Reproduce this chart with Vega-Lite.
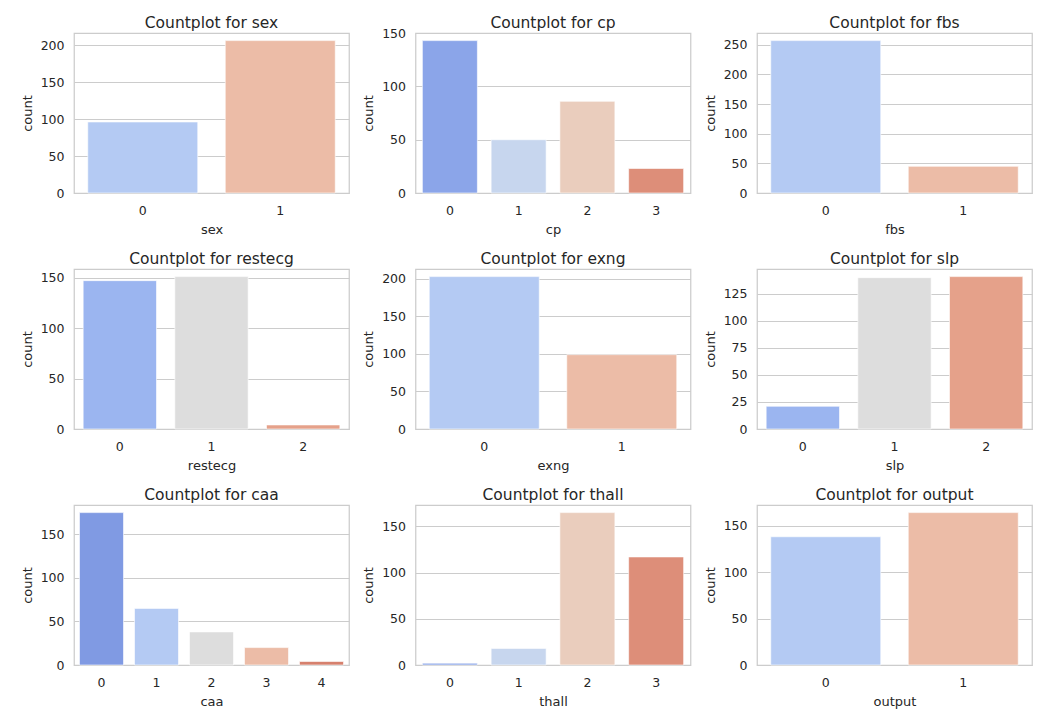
{
  "$schema": "https://vega.github.io/schema/vega-lite/v6.json",
  "background": "white",
  "padding": {"left": 20, "top": 14, "right": 5, "bottom": 5},
  "data": {"values": [
    {"feature": "sex", "value": 0, "count": 96},
    {"feature": "sex", "value": 1, "count": 206},
    {"feature": "cp", "value": 0, "count": 143},
    {"feature": "cp", "value": 1, "count": 50},
    {"feature": "cp", "value": 2, "count": 86},
    {"feature": "cp", "value": 3, "count": 23},
    {"feature": "fbs", "value": 0, "count": 257},
    {"feature": "fbs", "value": 1, "count": 45},
    {"feature": "restecg", "value": 0, "count": 147},
    {"feature": "restecg", "value": 1, "count": 151},
    {"feature": "restecg", "value": 2, "count": 4},
    {"feature": "exng", "value": 0, "count": 203},
    {"feature": "exng", "value": 1, "count": 99},
    {"feature": "slp", "value": 0, "count": 21},
    {"feature": "slp", "value": 1, "count": 140},
    {"feature": "slp", "value": 2, "count": 141},
    {"feature": "caa", "value": 0, "count": 175},
    {"feature": "caa", "value": 1, "count": 65},
    {"feature": "caa", "value": 2, "count": 38},
    {"feature": "caa", "value": 3, "count": 20},
    {"feature": "caa", "value": 4, "count": 4},
    {"feature": "thall", "value": 0, "count": 2},
    {"feature": "thall", "value": 1, "count": 18},
    {"feature": "thall", "value": 2, "count": 165},
    {"feature": "thall", "value": 3, "count": 117},
    {"feature": "output", "value": 0, "count": 138},
    {"feature": "output", "value": 1, "count": 164}
  ]},
  "columns": 3,
  "spacing": {"row": 12, "column": 11.5},
  "resolve": {"scale": {"x": "independent", "y": "independent", "color": "independent"}},
  "concat": [
    {
      "title": "Countplot for sex", "width": 275, "height": 160,
      "transform": [{"filter": "datum.feature === 'sex'"}],
      "mark": {"type": "bar", "stroke": "white", "strokeWidth": 0.6},
      "encoding": {
        "x": {"field": "value", "type": "ordinal", "title": "sex", "scale": {"paddingInner": 0.2, "paddingOuter": 0.1}},
        "y": {"field": "count", "type": "quantitative", "title": "count", "scale": {"domain": [0, 216.3], "nice": false}, "axis": {"values": [0, 50, 100, 150, 200]}},
        "color": {"field": "value", "type": "nominal", "scale": {"domain": [0, 1], "range": ["#b4caf3", "#ecbca7"]}, "legend": null}
      }
    },
    {
      "title": {"text": "Countplot for cp", "dy": 6},
      "width": 275, "height": 160,
      "transform": [{"filter": "datum.feature === 'cp'"}],
      "mark": {"type": "bar", "stroke": "white", "strokeWidth": 0.6},
      "encoding": {
        "x": {"field": "value", "type": "ordinal", "title": "cp", "scale": {"paddingInner": 0.2, "paddingOuter": 0.1}},
        "y": {"field": "count", "type": "quantitative", "title": "count", "scale": {"domain": [0, 150.15], "nice": false}, "axis": {"values": [0, 50, 100, 150]}},
        "color": {"field": "value", "type": "nominal", "scale": {"domain": [0, 1, 2, 3], "range": ["#8ba5e9", "#c7d6ee", "#eacdbd", "#dd8e79"]}, "legend": null}
      }
    },
    {
      "title": "Countplot for fbs", "width": 275, "height": 160,
      "transform": [{"filter": "datum.feature === 'fbs'"}],
      "mark": {"type": "bar", "stroke": "white", "strokeWidth": 0.6},
      "encoding": {
        "x": {"field": "value", "type": "ordinal", "title": "fbs", "scale": {"paddingInner": 0.2, "paddingOuter": 0.1}},
        "y": {"field": "count", "type": "quantitative", "title": "count", "scale": {"domain": [0, 269.85], "nice": false}, "axis": {"values": [0, 50, 100, 150, 200, 250]}},
        "color": {"field": "value", "type": "nominal", "scale": {"domain": [0, 1], "range": ["#b4caf3", "#ecbca7"]}, "legend": null}
      }
    },
    {
      "title": "Countplot for restecg", "width": 275, "height": 160,
      "transform": [{"filter": "datum.feature === 'restecg'"}],
      "mark": {"type": "bar", "stroke": "white", "strokeWidth": 0.6},
      "encoding": {
        "x": {"field": "value", "type": "ordinal", "title": "restecg", "scale": {"paddingInner": 0.2, "paddingOuter": 0.1}},
        "y": {"field": "count", "type": "quantitative", "title": "count", "scale": {"domain": [0, 158.55], "nice": false}, "axis": {"values": [0, 50, 100, 150]}},
        "color": {"field": "value", "type": "nominal", "scale": {"domain": [0, 1, 2], "range": ["#9bb5f0", "#dddddd", "#e5a18a"]}, "legend": null}
      }
    },
    {
      "title": "Countplot for exng", "width": 275, "height": 160,
      "transform": [{"filter": "datum.feature === 'exng'"}],
      "mark": {"type": "bar", "stroke": "white", "strokeWidth": 0.6},
      "encoding": {
        "x": {"field": "value", "type": "ordinal", "title": "exng", "scale": {"paddingInner": 0.2, "paddingOuter": 0.1}},
        "y": {"field": "count", "type": "quantitative", "title": "count", "scale": {"domain": [0, 213.15], "nice": false}, "axis": {"values": [0, 50, 100, 150, 200]}},
        "color": {"field": "value", "type": "nominal", "scale": {"domain": [0, 1], "range": ["#b4caf3", "#ecbca7"]}, "legend": null}
      }
    },
    {
      "title": "Countplot for slp", "width": 275, "height": 160,
      "transform": [{"filter": "datum.feature === 'slp'"}],
      "mark": {"type": "bar", "stroke": "white", "strokeWidth": 0.6},
      "encoding": {
        "x": {"field": "value", "type": "ordinal", "title": "slp", "scale": {"paddingInner": 0.2, "paddingOuter": 0.1}},
        "y": {"field": "count", "type": "quantitative", "title": "count", "scale": {"domain": [0, 148.05], "nice": false}, "axis": {"values": [0, 25, 50, 75, 100, 125]}},
        "color": {"field": "value", "type": "nominal", "scale": {"domain": [0, 1, 2], "range": ["#9bb5f0", "#dddddd", "#e5a18a"]}, "legend": null}
      }
    },
    {
      "title": "Countplot for caa", "width": 275, "height": 160,
      "transform": [{"filter": "datum.feature === 'caa'"}],
      "mark": {"type": "bar", "stroke": "white", "strokeWidth": 0.6},
      "encoding": {
        "x": {"field": "value", "type": "ordinal", "title": "caa", "scale": {"paddingInner": 0.2, "paddingOuter": 0.1}},
        "y": {"field": "count", "type": "quantitative", "title": "count", "scale": {"domain": [0, 183.75], "nice": false}, "axis": {"values": [0, 50, 100, 150]}},
        "color": {"field": "value", "type": "nominal", "scale": {"domain": [0, 1, 2, 3, 4], "range": ["#809ae3", "#b4caf3", "#dddddd", "#ecbca7", "#d6806d"]}, "legend": null}
      }
    },
    {
      "title": "Countplot for thall", "width": 275, "height": 160,
      "transform": [{"filter": "datum.feature === 'thall'"}],
      "mark": {"type": "bar", "stroke": "white", "strokeWidth": 0.6},
      "encoding": {
        "x": {"field": "value", "type": "ordinal", "title": "thall", "scale": {"paddingInner": 0.2, "paddingOuter": 0.1}},
        "y": {"field": "count", "type": "quantitative", "title": "count", "scale": {"domain": [0, 173.25], "nice": false}, "axis": {"values": [0, 50, 100, 150]}},
        "color": {"field": "value", "type": "nominal", "scale": {"domain": [0, 1, 2, 3], "range": ["#8ba5e9", "#c7d6ee", "#eacdbd", "#dd8e79"]}, "legend": null}
      }
    },
    {
      "title": "Countplot for output", "width": 275, "height": 160,
      "transform": [{"filter": "datum.feature === 'output'"}],
      "mark": {"type": "bar", "stroke": "white", "strokeWidth": 0.6},
      "encoding": {
        "x": {"field": "value", "type": "ordinal", "title": "output", "scale": {"paddingInner": 0.2, "paddingOuter": 0.1}},
        "y": {"field": "count", "type": "quantitative", "title": "count", "scale": {"domain": [0, 172.2], "nice": false}, "axis": {"values": [0, 50, 100, 150]}},
        "color": {"field": "value", "type": "nominal", "scale": {"domain": [0, 1], "range": ["#b4caf3", "#ecbca7"]}, "legend": null}
      }
    }
  ],
  "config": {
    "font": "DejaVu Sans",
    "view": {"stroke": "#cccccc", "strokeWidth": 1.25},
    "axis": {
      "domain": false, "ticks": false,
      "labelFont": "DejaVu Sans", "labelFontSize": 12.5, "labelColor": "#262626",
      "titleFont": "DejaVu Sans", "titleFontSize": 13, "titleFontWeight": "normal", "titleColor": "#262626",
      "gridColor": "#cccccc", "gridWidth": 1
    },
    "axisX": {"grid": false, "labelAngle": 0, "labelPadding": 11, "titlePadding": 7},
    "axisY": {"grid": true, "labelPadding": 10, "titlePadding": 6},
    "title": {"font": "DejaVu Sans", "fontSize": 15.5, "fontWeight": "normal", "color": "#262626", "offset": 2}
  }
}
